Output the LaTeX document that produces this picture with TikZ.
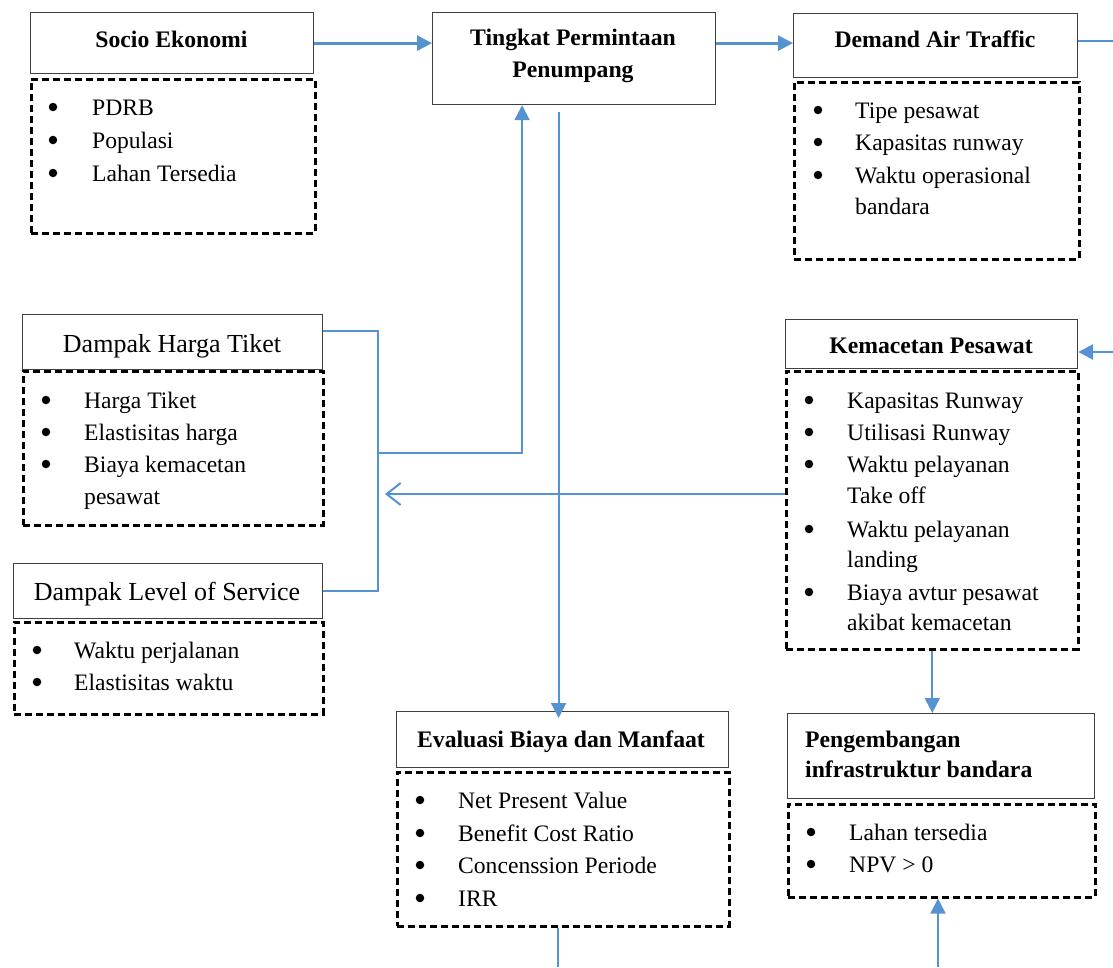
\documentclass[tikz,border=0pt]{standalone}
\usepackage{fontspec}
\setmainfont{Liberation Serif}
\usetikzlibrary{arrows.meta}
\definecolor{flowblue}{RGB}{84,146,210}
\begin{document}
\begin{tikzpicture}[x=1pt,y=-1pt,
  headbox/.style={draw=black!75, line width=1.2pt, inner sep=0pt, anchor=north west},
  listbox/.style={draw=black, line width=2.6pt, dash pattern=on 7pt off 4pt, inner sep=0pt, anchor=north west},
  ttl/.style={font=\fontsize{23.7}{30}\selectfont\bfseries, anchor=base, inner sep=0pt},
  ttlr/.style={font=\fontsize{26}{30}\selectfont, anchor=base, inner sep=0pt},
  itm/.style={font=\fontsize{23.6}{30}\selectfont, anchor=base west, inner sep=0pt},
  bul/.style={circle, fill=black, inner sep=0pt, minimum size=8.5pt, yshift=8pt},
  flow/.style={draw=flowblue, line width=2.8pt},
  link/.style={draw=flowblue, line width=2pt},
  head/.style={-{Triangle[length=15pt,width=15pt]}},
  openhead/.style={-{Straight Barb[length=14pt,width=22pt]}},
]
\useasboundingbox (0,0) rectangle (1113,967);

% ---- boxes ----
\node[headbox, minimum width=283pt, minimum height=61pt] (socio) at (30,12) {};
\node[listbox, minimum width=284pt, minimum height=154pt] (socioL) at (30,78) {};
\node[headbox, minimum width=283pt, minimum height=92pt] (tingkat) at (432,12) {};
\node[headbox, minimum width=284pt, minimum height=64pt] (demand) at (793,13) {};
\node[listbox, minimum width=285pt, minimum height=177pt] (demandL) at (793,81) {};
\node[headbox, minimum width=300pt, minimum height=55pt] (harga) at (22,314) {};
\node[listbox, minimum width=300pt, minimum height=154pt] (hargaL) at (22,370) {};
\node[headbox, minimum width=309pt, minimum height=55pt] (los) at (13,563) {};
\node[listbox, minimum width=309pt, minimum height=92pt] (losL) at (13,621) {};
\node[headbox, minimum width=292pt, minimum height=49pt] (kemacetan) at (785,319) {};
\node[listbox, minimum width=292pt, minimum height=278pt] (kemacetanL) at (785,370) {};
\node[headbox, minimum width=332pt, minimum height=56pt] (evaluasi) at (396,711) {};
\node[listbox, minimum width=332pt, minimum height=154pt] (evaluasiL) at (396,771) {};
\node[headbox, minimum width=307pt, minimum height=85pt] (pengembangan) at (787,713) {};
\node[listbox, minimum width=307pt, minimum height=93pt] (pengembanganL) at (787,803) {};

% ---- titles ----
\node[ttl] (tSocio) at (171.5,47) {Socio Ekonomi};
\node[ttl] (tTingkat1) at (573,45) {Tingkat Permintaan};
\node[ttl] (tTingkat2) at (573,77) {Penumpang};
\node[ttl] (tDemand) at (935,47) {Demand Air Traffic};
\node[ttl] (tKemacetan) at (931,353) {Kemacetan Pesawat};
\node[ttlr] (tHarga) at (172,352) {Dampak Harga Tiket};
\node[ttlr] (tLos) at (167,600) {Dampak Level of Service};
\node[ttl] (tEvaluasi) at (561,747) {Evaluasi Biaya dan Manfaat};
\node[ttl, anchor=base west] (tPeng1) at (805,747) {Pengembangan};
\node[ttl, anchor=base west] (tPeng2) at (805,777) {infrastruktur bandara};

% ---- Socio Ekonomi items ----
\node[bul] (bS1) at (53,115) {};
\node[itm] (iS1) at (92,115) {PDRB};
\node[bul] (bS2) at (53,148) {};
\node[itm] (iS2) at (92,148) {Populasi};
\node[bul] (bS3) at (53,181) {};
\node[itm] (iS3) at (92,181) {Lahan Tersedia};

% ---- Demand Air Traffic items ----
\node[bul] (bD1) at (818,118) {};
\node[itm] (iD1) at (855,118) {Tipe pesawat};
\node[bul] (bD2) at (818,150) {};
\node[itm] (iD2) at (855,150) {Kapasitas runway};
\node[bul] (bD3) at (818,183) {};
\node[itm] (iD3) at (855,183) {Waktu operasional};
\node[itm] (iD3b) at (855,214) {bandara};

% ---- Dampak Harga Tiket items ----
\node[bul] (bH1) at (46,408) {};
\node[itm] (iH1) at (84,408) {Harga Tiket};
\node[bul] (bH2) at (46,440) {};
\node[itm] (iH2) at (84,440) {Elastisitas harga};
\node[bul] (bH3) at (46,472) {};
\node[itm] (iH3) at (84,472) {Biaya kemacetan};
\node[itm] (iH3b) at (84,504) {pesawat};

% ---- Dampak Level of Service items ----
\node[bul] (bL1) at (37,658) {};
\node[itm] (iL1) at (74,658) {Waktu perjalanan};
\node[bul] (bL2) at (37,690) {};
\node[itm] (iL2) at (74,690) {Elastisitas waktu};

% ---- Kemacetan Pesawat items ----
\node[bul] (bK1) at (809,408) {};
\node[itm] (iK1) at (847,408) {Kapasitas Runway};
\node[bul] (bK2) at (809,440) {};
\node[itm] (iK2) at (847,440) {Utilisasi Runway};
\node[bul] (bK3) at (809,472) {};
\node[itm] (iK3) at (847,472) {Waktu pelayanan};
\node[itm] (iK3b) at (847,503) {Take off};
\node[bul] (bK4) at (809,537) {};
\node[itm] (iK4) at (847,537) {Waktu pelayanan};
\node[itm] (iK4b) at (847,567) {landing};
\node[bul] (bK5) at (809,600) {};
\node[itm] (iK5) at (847,600) {Biaya avtur pesawat};
\node[itm] (iK5b) at (847,630) {akibat kemacetan};

% ---- Evaluasi items ----
\node[bul] (bE1) at (420,808) {};
\node[itm] (iE1) at (458,808) {Net Present Value};
\node[bul] (bE2) at (420,841) {};
\node[itm] (iE2) at (458,841) {Benefit Cost Ratio};
\node[bul] (bE3) at (420,873) {};
\node[itm] (iE3) at (458,873) {Concenssion Periode};
\node[bul] (bE4) at (420,906) {};
\node[itm] (iE4) at (458,906) {IRR};

% ---- Pengembangan items ----
\node[bul] (bP1) at (811,840) {};
\node[itm] (iP1) at (849,840) {Lahan tersedia};
\node[bul] (bP2) at (811,872) {};
\node[itm] (iP2) at (849,872) {NPV > 0};

% ---- connectors ----
\coordinate (outR) at (1113,41);
\coordinate (inR) at (1113,352);
\coordinate (jx) at (378,453);
\coordinate (hit) at (385,494);
\coordinate (outB) at (558,967);
\coordinate (inB) at (938,967);

\draw[flow, head] (socio.east) -- (socio.east -| tingkat.west);
\draw[flow, head] (tingkat.east |- socio.east) -- (demand.west |- socio.east);
\draw[link] (demand.east |- outR) -- (outR);
\draw[flow, head] (inR) -- (inR -| kemacetan.east);

\draw[link] ([yshift=11.5pt]harga.east) -| (jx) |- (los.east);
\draw[link, head] (jx) -| ([xshift=-52pt]tingkat.south);
\draw[link, openhead] (kemacetanL.west |- hit) -- (hit);

\draw[link, head] ([xshift=-15.5pt,yshift=-7pt]tingkat.south) -- ([xshift=-15.5pt,yshift=-7pt]tingkat.south |- evaluasi.north);
\draw[link, head] (kemacetanL.south) -- (kemacetanL.south |- pengembangan.north);
\draw[link] (evaluasiL.south -| outB) -- (outB);
\draw[link, head] (inB) -- (inB |- pengembanganL.south);
\end{tikzpicture}
\end{document}
